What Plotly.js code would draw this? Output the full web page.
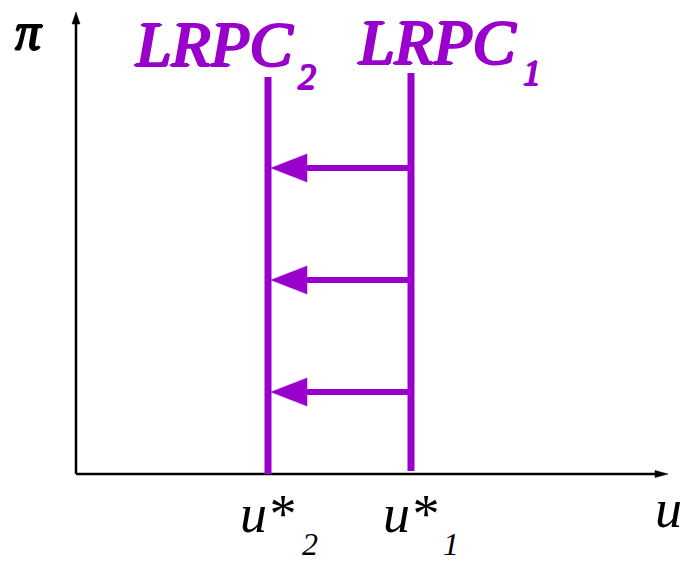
<!DOCTYPE html>
<html>
<head>
<meta charset="utf-8">
<script src="https://cdn.plot.ly/plotly-3.0.1.min.js"></script>
<style>html,body{margin:0;padding:0;background:#fff;}#chart{width:686px;height:561px;}</style>
</head>
<body>
<div id="chart"></div>
<script>
// ---- data ----
const curveNames = ['LRPC', 'LRPC'];
const curveSubs = ['2', '1'];
const uStar = [1.92, 3.35];          // u*_2, u*_1 (natural rate positions)
const curveTop = [3.97, 4.01];
const curveBottom = [0.0, 0.03];
const shiftLevels = [3.06, 1.94, 0.82]; // inflation levels of the shift arrows
const axisEnds = {x: 5.92, y: 4.62};

// ---- style ----
const PURPLE = '#9900cc';
const SERIF = 'Liberation Serif';
const S = 100; // px per unit
const X = px => (px - 76) / S;
const Y = py => (474 - py) / S;
const heavy = (c, d) => `${c} ${d}px 0px 0px, ${c} -${d}px 0px 0px, ${c} 0px ${d * 0.7}px 0px, ${c} 0px -${d * 0.7}px 0px`;

const traces = [];
// axes
traces.push({x: [0, axisEnds.x - 0.1], y: [0, 0], mode: 'lines', line: {color: '#000', width: 2.5}, hoverinfo: 'skip'});
traces.push({x: [0, 0], y: [0, axisEnds.y - 0.1], mode: 'lines', line: {color: '#000', width: 2.5}, hoverinfo: 'skip'});
traces.push({x: [axisEnds.x, axisEnds.x - 0.13, axisEnds.x - 0.13, axisEnds.x], y: [0, 0.035, -0.035, 0],
  mode: 'lines', fill: 'toself', fillcolor: '#000', line: {color: '#000', width: 0.5}, hoverinfo: 'skip'});
traces.push({x: [0, 0.04, -0.04, 0], y: [axisEnds.y, axisEnds.y - 0.12, axisEnds.y - 0.12, axisEnds.y],
  mode: 'lines', fill: 'toself', fillcolor: '#000', line: {color: '#000', width: 0.5}, hoverinfo: 'skip'});

// vertical LRPC lines
uStar.forEach((u, i) => {
  traces.push({x: [u, u], y: [curveBottom[i], curveTop[i]], mode: 'lines',
    line: {color: PURPLE, width: 7}, hoverinfo: 'skip'});
});

// shift arrows from LRPC1 to LRPC2
const headLen = 0.36, headHalf = 0.14;
const tipX = uStar[0] + 0.03;
shiftLevels.forEach(y => {
  traces.push({x: [uStar[1], tipX + headLen - 0.02], y: [y, y], mode: 'lines',
    line: {color: PURPLE, width: 6}, hoverinfo: 'skip'});
  traces.push({x: [tipX, tipX + headLen, tipX + headLen, tipX], y: [y, y + headHalf, y - headHalf, y],
    mode: 'lines', fill: 'toself', fillcolor: PURPLE, line: {color: PURPLE, width: 0.5}, hoverinfo: 'skip'});
});

const ann = [];
function txt(text, x, y, size, color, shadow) {
  const f = {family: SERIF, size: size, color: color, style: 'italic'};
  if (shadow) f.shadow = shadow;
  ann.push({text: text, x: x, y: y, xref: 'x', yref: 'y', xanchor: 'left', yanchor: 'middle',
    showarrow: false, font: f});
}
// curve labels
const labelX = [X(133), X(356)], labelY = [Y(44), Y(42)];
const subX = [X(296), X(521)], subY = [Y(77), Y(73)];
curveNames.forEach((n, i) => {
  txt(n, labelX[i], labelY[i], 64, PURPLE, heavy(PURPLE, 1.5));
  txt(curveSubs[i], subX[i], subY[i], 36, PURPLE, heavy(PURPLE, 1));
});
// u* labels
const uLabX = [X(238), X(381)], uSubX = [X(300), X(441)];
uStar.forEach((u, i) => {
  txt('u*', uLabX[i], Y(514), 54, '#000');
  txt(curveSubs[i], uSubX[i], Y(544), 32, '#000');
});
txt('u', X(653), Y(509), 54, '#000');
txt('π', X(13), Y(31), 52, '#000', heavy('#000', 1));

const layout = {
  width: 686, height: 561,
  margin: {l: 0, r: 0, t: 0, b: 0},
  paper_bgcolor: '#fff', plot_bgcolor: '#fff',
  showlegend: false,
  xaxis: {range: [X(0), X(686)], visible: false, fixedrange: true},
  yaxis: {range: [Y(561), Y(0)], visible: false, fixedrange: true},
  annotations: ann
};
Plotly.newPlot('chart', traces, layout, {staticPlot: true});
</script>
</body>
</html>
